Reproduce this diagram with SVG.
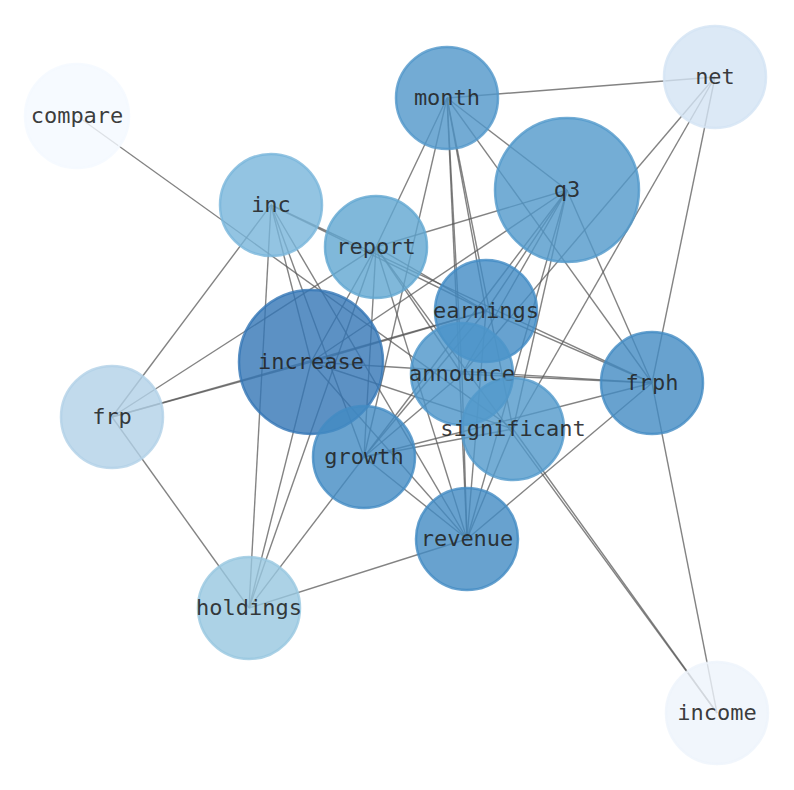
<svg xmlns="http://www.w3.org/2000/svg" width="794" height="790" viewBox="0 0 794 790">
<style>
.e{stroke:#5a5a5a;stroke-opacity:0.75;stroke-width:1.4;fill:none}
.n circle{fill-opacity:0.8;stroke-opacity:0.8;stroke-width:2.5}
.n text{font-family:"DejaVu Sans Mono","Liberation Mono",monospace;font-size:22px;fill:#222;fill-opacity:0.88;text-anchor:middle}
</style>
<rect width="794" height="790" fill="#fff"/>
<g id="edges">
<line class="e" x1="77" y1="116" x2="513" y2="429"/>
<line class="e" x1="715" y1="77" x2="447" y2="98"/>
<line class="e" x1="715" y1="77" x2="462" y2="374"/>
<line class="e" x1="715" y1="77" x2="513" y2="429"/>
<line class="e" x1="715" y1="77" x2="652" y2="383"/>
<line class="e" x1="447" y1="98" x2="567" y2="190"/>
<line class="e" x1="447" y1="98" x2="652" y2="383"/>
<line class="e" x1="447" y1="98" x2="376" y2="247"/>
<line class="e" x1="447" y1="98" x2="364" y2="457"/>
<line class="e" x1="447" y1="98" x2="467" y2="539"/>
<line class="e" x1="447" y1="98" x2="462" y2="374"/>
<line class="e" x1="447" y1="98" x2="486" y2="311"/>
<line class="e" x1="447" y1="98" x2="513" y2="429"/>
<line class="e" x1="567" y1="190" x2="376" y2="247"/>
<line class="e" x1="567" y1="190" x2="311" y2="362"/>
<line class="e" x1="567" y1="190" x2="652" y2="383"/>
<line class="e" x1="567" y1="190" x2="513" y2="429"/>
<line class="e" x1="567" y1="190" x2="467" y2="539"/>
<line class="e" x1="567" y1="190" x2="462" y2="374"/>
<line class="e" x1="567" y1="190" x2="486" y2="311"/>
<line class="e" x1="567" y1="190" x2="364" y2="457"/>
<line class="e" x1="271" y1="205" x2="112" y2="417"/>
<line class="e" x1="271" y1="205" x2="249" y2="608"/>
<line class="e" x1="271" y1="205" x2="311" y2="362"/>
<line class="e" x1="271" y1="205" x2="364" y2="457"/>
<line class="e" x1="271" y1="205" x2="467" y2="539"/>
<line class="e" x1="271" y1="205" x2="486" y2="311"/>
<line class="e" x1="271" y1="205" x2="652" y2="383"/>
<line class="e" x1="112" y1="417" x2="376" y2="247"/>
<line class="e" x1="112" y1="417" x2="311" y2="362"/>
<line class="e" x1="112" y1="417" x2="486" y2="311"/>
<line class="e" x1="112" y1="417" x2="249" y2="608"/>
<line class="e" x1="249" y1="608" x2="311" y2="362"/>
<line class="e" x1="249" y1="608" x2="376" y2="247"/>
<line class="e" x1="249" y1="608" x2="364" y2="457"/>
<line class="e" x1="249" y1="608" x2="467" y2="539"/>
<line class="e" x1="364" y1="457" x2="513" y2="429"/>
<line class="e" x1="364" y1="457" x2="652" y2="383"/>
<line class="e" x1="364" y1="457" x2="467" y2="539"/>
<line class="e" x1="364" y1="457" x2="376" y2="247"/>
<line class="e" x1="364" y1="457" x2="486" y2="311"/>
<line class="e" x1="364" y1="457" x2="462" y2="374"/>
<line class="e" x1="376" y1="247" x2="311" y2="362"/>
<line class="e" x1="376" y1="247" x2="467" y2="539"/>
<line class="e" x1="376" y1="247" x2="486" y2="311"/>
<line class="e" x1="376" y1="247" x2="462" y2="374"/>
<line class="e" x1="311" y1="362" x2="486" y2="311"/>
<line class="e" x1="311" y1="362" x2="652" y2="383"/>
<line class="e" x1="311" y1="362" x2="467" y2="539"/>
<line class="e" x1="311" y1="362" x2="513" y2="429"/>
<line class="e" x1="462" y1="374" x2="652" y2="383"/>
<line class="e" x1="462" y1="374" x2="467" y2="539"/>
<line class="e" x1="486" y1="311" x2="652" y2="383"/>
<line class="e" x1="486" y1="311" x2="467" y2="539"/>
<line class="e" x1="513" y1="429" x2="467" y2="539"/>
<line class="e" x1="467" y1="539" x2="652" y2="383"/>
<line class="e" x1="652" y1="383" x2="717" y2="713"/>
<line class="e" x1="717" y1="713" x2="376" y2="247"/>
<line class="e" x1="717" y1="713" x2="513" y2="429"/>
</g>
<g id="node-compare" class="n"><circle cx="77" cy="116" r="52" fill="#f4f9ff" stroke="#f4f9ff"/><text x="77" y="123">compare</text></g>
<g id="node-net" class="n"><circle cx="715" cy="77" r="51" fill="#d3e4f4" stroke="#d3e4f4"/><text x="715" y="84">net</text></g>
<g id="node-income" class="n"><circle cx="717" cy="713" r="51" fill="#eef4fb" stroke="#eef4fb"/><text x="717" y="720">income</text></g>
<g id="node-frp" class="n"><circle cx="112" cy="417" r="51" fill="#b1d1e7" stroke="#b1d1e7"/><text x="112" y="424">frp</text></g>
<g id="node-holdings" class="n"><circle cx="249" cy="608" r="51" fill="#97c7e0" stroke="#97c7e0"/><text x="249" y="615">holdings</text></g>
<g id="node-inc" class="n"><circle cx="271" cy="205" r="51" fill="#78b5db" stroke="#78b5db"/><text x="271" y="212">inc</text></g>
<g id="node-report" class="n"><circle cx="376" cy="247" r="51" fill="#60a6d1" stroke="#60a6d1"/><text x="376" y="254">report</text></g>
<g id="node-month" class="n"><circle cx="447" cy="98" r="51" fill="#5096c9" stroke="#5096c9"/><text x="447" y="105">month</text></g>
<g id="node-q3" class="n"><circle cx="567" cy="190" r="72" fill="#5198ca" stroke="#5198ca"/><text x="567" y="197">q3</text></g>
<g id="node-increase" class="n"><circle cx="311" cy="362" r="72" fill="#3376b5" stroke="#3376b5"/><text x="311" y="369">increase</text></g>
<g id="node-earnings" class="n"><circle cx="486" cy="311" r="51" fill="#418bc4" stroke="#418bc4"/><text x="486" y="318">earnings</text></g>
<g id="node-announce" class="n"><circle cx="462" cy="374" r="51" fill="#4c95c9" stroke="#4c95c9"/><text x="462" y="381">announce</text></g>
<g id="node-significant" class="n"><circle cx="513" cy="429" r="51" fill="#5198ca" stroke="#5198ca"/><text x="513" y="436">significant</text></g>
<g id="node-frph" class="n"><circle cx="652" cy="383" r="51" fill="#428bc3" stroke="#428bc3"/><text x="652" y="390">frph</text></g>
<g id="node-growth" class="n"><circle cx="364" cy="457" r="51" fill="#428bc3" stroke="#428bc3"/><text x="364" y="464">growth</text></g>
<g id="node-revenue" class="n"><circle cx="467" cy="539" r="51" fill="#428bc3" stroke="#428bc3"/><text x="467" y="546">revenue</text></g>
</svg>
